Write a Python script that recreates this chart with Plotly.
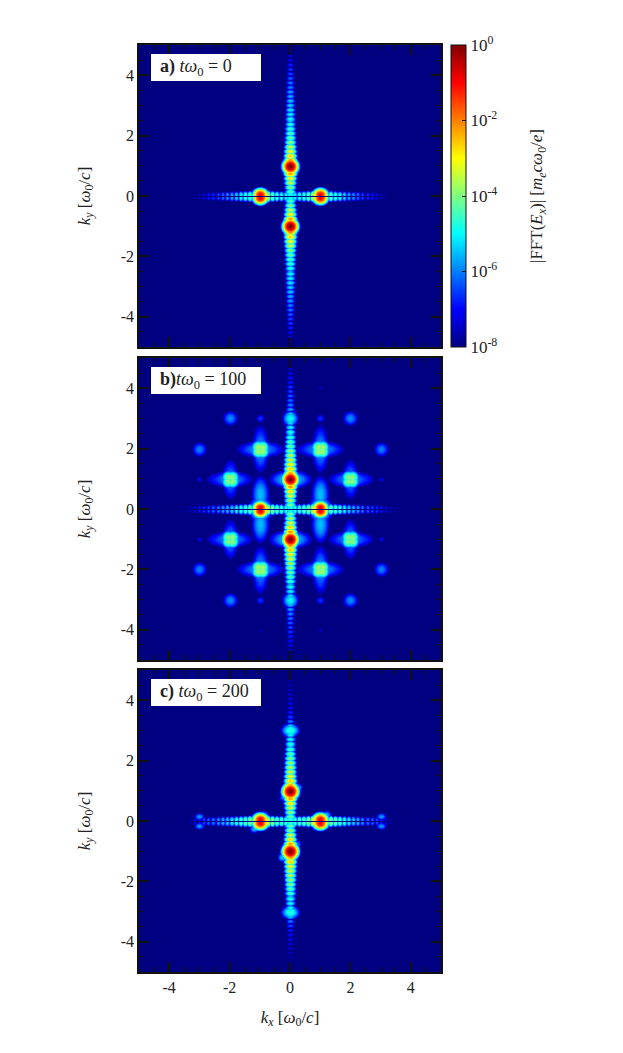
import numpy as np
import plotly.graph_objects as go

# The page body adds an 8 px margin, so positions below are reference pixels minus that margin.
PAGE_MARGIN = 8
W, H = 623 - 2 * PAGE_MARGIN, 1053 - 2 * PAGE_MARGIN
X0, X1 = 139 - PAGE_MARGIN, 441 - PAGE_MARGIN
PANEL_TOPS = [45 - PAGE_MARGIN, 358 - PAGE_MARGIN, 670 - PAGE_MARGIN]
PANEL_H = 302
CB_X0, CB_X1 = 451 - PAGE_MARGIN, 466 - PAGE_MARGIN

# Spectrum is rebuilt from features (log10 levels, in k units).
k_grid = np.arange(-150, 151) / 30.0
fringe_step = 0.15

# Fringe peak levels along the arms, from k = 0 outward
a_vert_arm = [-4.6, -4.3, -3.9, -3.4, -2.9, -2.2, -1.4, -1.2, -2.1, -2.6, -3.0, -3.4, -3.8, -4.1, -4.3, -4.5, -4.7,
              -4.9, -5.0, -5.1, -5.3, -5.4, -5.6, -5.7, -5.9, -6.0, -6.2, -6.4, -6.5, -6.7, -6.9, -7.1, -7.4, -7.7]
a_horiz_arm = [-5.2, -5.0, -4.8, -4.6, -4.2, -3.5, -2.6, -2.6, -3.8, -4.3, -4.6, -4.9, -5.3, -5.6, -5.8, -6.1, -6.4,
               -6.6, -6.8, -7.0, -7.3, -7.6]
b_vert_arm = [-4.4, -4.0, -3.6, -3.2, -2.7, -2.1, -1.4, -1.2, -2.1, -2.6, -2.9, -3.2, -3.5, -3.8, -4.1, -4.3, -4.5,
              -4.8, -5.0, -5.2, -5.2, -5.4, -5.7, -5.9, -6.1, -6.2, -6.4, -6.5, -6.7, -6.8, -7.0, -7.2, -7.4, -7.7]
b_horiz_arm = [-4.9, -4.7, -4.5, -4.2, -3.9, -3.3, -2.6, -2.6, -3.7, -4.1, -4.4, -4.7, -5.0, -5.3, -5.5, -5.7, -6.0,
               -6.2, -6.4, -6.6, -6.8, -7.0, -7.3, -7.5, -7.7]
c_vert_arm = [-4.4, -4.1, -3.8, -3.3, -2.8, -2.2, -1.4, -1.2, -2.1, -2.6, -3.0, -3.3, -3.5, -3.7, -3.9, -4.2, -4.4,
              -4.7, -4.9, -5.0, -5.2, -5.4, -6.0, -6.4, -6.7, -6.9, -7.0, -7.1, -7.2, -7.3, -7.4, -7.5, -7.7, -7.8]
c_horiz_arm = [-4.7, -4.5, -4.3, -4.1, -3.8, -3.2, -2.6, -2.6, -3.4, -3.8, -4.1, -4.4, -4.7, -5.0, -5.3, -5.5, -5.8,
               -6.0, -6.2, -6.4, -6.7, -7.0, -7.4]

# Bright spots: kx, ky, log10 peak, x scale, y scale
a_spot_kx = [0, 0, -1, -1, 1, 1, 0]
a_spot_ky = [1, -1, 0.06, -0.06, 0.06, -0.06, 0]
a_spot_log = [0, 0, -0.9, -0.9, -0.9, -0.9, -4.8]
a_spot_sx = [0.125, 0.125, 0.125, 0.125, 0.125, 0.125, 0.14]
a_spot_sy = [0.125, 0.125, 0.105, 0.105, 0.105, 0.105, 0.14]

# Panel b: first-quadrant spots, mirrored into all four quadrants
b_spot_kx = [0, 1, 1, 1, 2, 2, 0, 1, 3, 2, 0, 1, 3, 1, 1, 0]
b_spot_ky = [1, 0.06, 2, 2, 1, 1, 1, 0.5, 2, 3, 3, 3, 1, 4, 0.06, 0]
b_spot_log = [0, -0.9, -5.8, -5.8, -5.9, -6.0, -5.2, -5.5, -6.0, -5.9, -5.0, -6.6, -7.0, -7.4, -4.8, -4.8]
b_spot_sx = [0.125, 0.125, 0.2, 0.56, 0.54, 0.2, 0.45, 0.2, 0.18, 0.18, 0.17, 0.12, 0.09, 0.09, 0.24, 0.14]
b_spot_sy = [0.125, 0.105, 0.56, 0.2, 0.2, 0.5, 0.2, 0.42, 0.18, 0.18, 0.17, 0.12, 0.09, 0.09, 0.24, 0.14]
# Panel b: rounded-square cores, each drawn as four overlapping spots
b_core_kx = [1, 2]
b_core_ky = [2, 1]
b_core_log = [-3.7, -3.9]
b_core_half = 0.07
b_core_scale = 0.13

c_spot_kx = [0, 0, -1, -1, 1, 1, 0, 0, 0, -3, -3, 3, 3, 0.25, -0.27, 0.22, -0.23, 1.2, -1.2, 0.85, -0.85]
c_spot_ky = [1, -1, 0.06, -0.06, 0.06, -0.06, 3, -3, 0, 0.16, -0.16, 0.16, -0.16, 1.12, -1.2, -0.75, 0.8, 0.22, -0.25, -0.2, 0.22]
c_spot_log = [0, 0, -0.9, -0.9, -0.9, -0.9, -4.7, -4.7, -4.5, -5.8, -5.8, -5.8, -5.8, -5.6, -5.5, -6.0, -6.0, -5.6, -5.6, -6.0, -6.0]
c_spot_sx = [0.13, 0.13, 0.13, 0.13, 0.13, 0.13, 0.19, 0.19, 0.14, 0.12, 0.12, 0.12, 0.12, 0.11, 0.11, 0.11, 0.11, 0.12, 0.12, 0.11, 0.11]
c_spot_sy = [0.13, 0.13, 0.11, 0.11, 0.11, 0.11, 0.14, 0.14, 0.14, 0.085, 0.085, 0.085, 0.085, 0.11, 0.11, 0.11, 0.11, 0.1, 0.1, 0.1, 0.1]

panel_labels = ["<b>a)</b> <i>tω</i><sub>0</sub> = 0", "<b>b)</b><i>tω</i><sub>0</sub> = 100", "<b>c)</b> <i>tω</i><sub>0</sub> = 200"]
major_ticks = [-4, -2, 0, 2, 4]
major_text = ["-4", "-2", "0", "2", "4"]
cbar_vals = [-8, -6, -4, -2, 0]
cbar_text = ["10<sup>-8</sup>", "10<sup>-6</sup>", "10<sup>-4</sup>", "10<sup>-2</sup>", "10<sup>0</sup>"]
cbar_inner_decades = [-7, -6, -5, -4, -3, -2, -1]
null_line_extent = [3.3, 3.7, 3.2]
jet = [[0, "rgb(0,0,128)"], [0.125, "rgb(0,0,255)"], [0.375, "rgb(0,255,255)"],
       [0.625, "rgb(255,255,0)"], [0.875, "rgb(255,0,0)"], [1, "rgb(128,0,0)"]]
FONT = "Liberation Serif"
INK = "#222222"
ARM_W, ARM_FRINGE = 0.115, 0.062
LOBE, LOBE_H, LOBE_FRINGE = 0.055, 0.078, 0.055


def build(vert, horiz, kx, ky, lv, sx, sy, mirror, null_ext, core=None):
    gx, gy = np.meshgrid(k_grid, k_grid)
    z = np.full(gx.shape, -8.0)

    def stamp(cx, cy, level, ax, ay):
        np.maximum(z, level - ((gx - cx) / ax) ** 2 - ((gy - cy) / ay) ** 2, out=z)

    for n, level in enumerate(vert):
        for sign in (1, -1):
            stamp(0, sign * n * fringe_step, level, ARM_W, ARM_FRINGE)
    for n, level in enumerate(horiz):
        for sign in (1, -1):
            for lobe in (LOBE, -LOBE):
                stamp(sign * n * fringe_step, lobe, level, LOBE_FRINGE, LOBE_H)
    for cx, cy, level, ax, ay in zip(kx, ky, lv, sx, sy):
        if mirror:
            for a in (1, -1):
                for b in (1, -1):
                    stamp(a * cx, b * cy, level, ax, ay)
        else:
            stamp(cx, cy, level, ax, ay)
    if core:
        for cx, cy, level in zip(*core):
            for a in (1, -1):
                for b in (1, -1):
                    for ox in (b_core_half, -b_core_half):
                        for oy in (b_core_half, -b_core_half):
                            stamp(a * cx + ox, b * cy + oy, level, b_core_scale, b_core_scale)
    row = len(k_grid) // 2
    z[row, np.abs(k_grid) <= null_ext] = -8.0
    return np.round(z, 3)


fields = [
    build(a_vert_arm, a_horiz_arm, a_spot_kx, a_spot_ky, a_spot_log, a_spot_sx, a_spot_sy, False, null_line_extent[0]),
    build(b_vert_arm, b_horiz_arm, b_spot_kx, b_spot_ky, b_spot_log, b_spot_sx, b_spot_sy, True, null_line_extent[1],
          core=(b_core_kx, b_core_ky, b_core_log)),
    build(c_vert_arm, c_horiz_arm, c_spot_kx, c_spot_ky, c_spot_log, c_spot_sx, c_spot_sy, False, null_line_extent[2]),
]

fig = go.Figure()
shapes, annotations = [], []
for i, (top, z) in enumerate(zip(PANEL_TOPS, fields)):
    n = "" if i == 0 else str(i + 1)
    trace = go.Heatmap(x=k_grid, y=k_grid, z=z, xaxis="x" + n, yaxis="y" + n, colorscale=jet, zmin=-8, zmax=0,
                       zsmooth="best", showscale=i == 0, hoverinfo="skip")
    if i == 0:
        trace.colorbar = dict(
            x=CB_X0 / W, xanchor="left", y=1 - top / H, yanchor="top", len=PANEL_H / H, lenmode="fraction",
            thickness=CB_X1 - CB_X0, thicknessmode="pixels", xpad=0, ypad=0, outlinecolor="#111111", outlinewidth=1,
            tickmode="array", tickvals=cbar_vals, ticktext=cbar_text, ticks="inside", ticklen=4, tickcolor="#111111",
            tickfont=dict(family=FONT, size=17, color=INK),
        )
    fig.add_trace(trace)
    axis = dict(range=[-5, 5], tickmode="array", tickvals=major_ticks, ticks="inside", ticklen=10, tickwidth=1.5,
                tickcolor="#111111", showline=True, linecolor="#111111", linewidth=1.5, mirror="allticks",
                showgrid=False, zeroline=False, tickfont=dict(family=FONT, size=16, color=INK),
                minor=dict(dtick=0.5, tick0=0, ticks="inside", ticklen=5, tickwidth=1, tickcolor="#111111", showgrid=False))
    xa = dict(axis, domain=[X0 / W, X1 / W], anchor="y" + n, ticktext=major_text, showticklabels=i == 2)
    if i == 2:
        xa["title"] = dict(text="<i>k<sub>x</sub></i> [<i>ω</i><sub>0</sub>/<i>c</i>]",
                           font=dict(family=FONT, size=17, color=INK), standoff=16)
    ya = dict(axis, domain=[1 - (top + PANEL_H) / H, 1 - top / H], anchor="x" + n, ticktext=major_text,
              title=dict(text="<i>k<sub>y</sub></i> [<i>ω</i><sub>0</sub>/<i>c</i>]",
                         font=dict(family=FONT, size=17, color=INK), standoff=26))
    fig.update_layout({"xaxis" + n: xa, "yaxis" + n: ya})
    shapes.append(dict(type="rect", xref="paper", yref="paper", x0=(X0 + 12) / W, x1=(X0 + 122) / W,
                       y0=1 - (top + 36) / H, y1=1 - (top + 9) / H, fillcolor="white", line=dict(width=0), layer="above"))
    annotations.append(dict(xref="paper", yref="paper", x=(X0 + 19) / W, y=1 - (top + 22.5) / H, xanchor="left",
                            yanchor="middle", text=panel_labels[i], showarrow=False,
                            font=dict(family=FONT, size=18, color=INK)))

# Colour-bar title and the decade ticks that the native colour bar cannot mirror
annotations.append(dict(xref="paper", yref="paper", x=(538 - PAGE_MARGIN) / W, y=1 - (PANEL_TOPS[0] + 151) / H,
                        xanchor="center", yanchor="middle", textangle=-90, showarrow=False,
                        text="|FFT(<i>E<sub>x</sub></i>)| [<i>m<sub>e</sub>cω</i><sub>0</sub>/<i>e</i>]",
                        font=dict(family=FONT, size=17, color=INK)))
for decade in cbar_inner_decades:
    py = 1 - (PANEL_TOPS[0] + PANEL_H * (-decade) / 8) / H
    shapes.append(dict(type="line", xref="paper", yref="paper", x0=CB_X0 / W, x1=(CB_X0 + 4) / W, y0=py, y1=py,
                       line=dict(color="#111111", width=1), layer="above"))
    shapes.append(dict(type="line", xref="paper", yref="paper", x0=(CB_X1 - 4) / W, x1=CB_X1 / W, y0=py, y1=py,
                       line=dict(color="#111111", width=1), layer="above"))

fig.update_layout(width=W, height=H, margin=dict(l=0, r=0, t=0, b=0), paper_bgcolor="white", plot_bgcolor="white",
                  shapes=shapes, annotations=annotations, showlegend=False)
fig.write_html("out.html")
